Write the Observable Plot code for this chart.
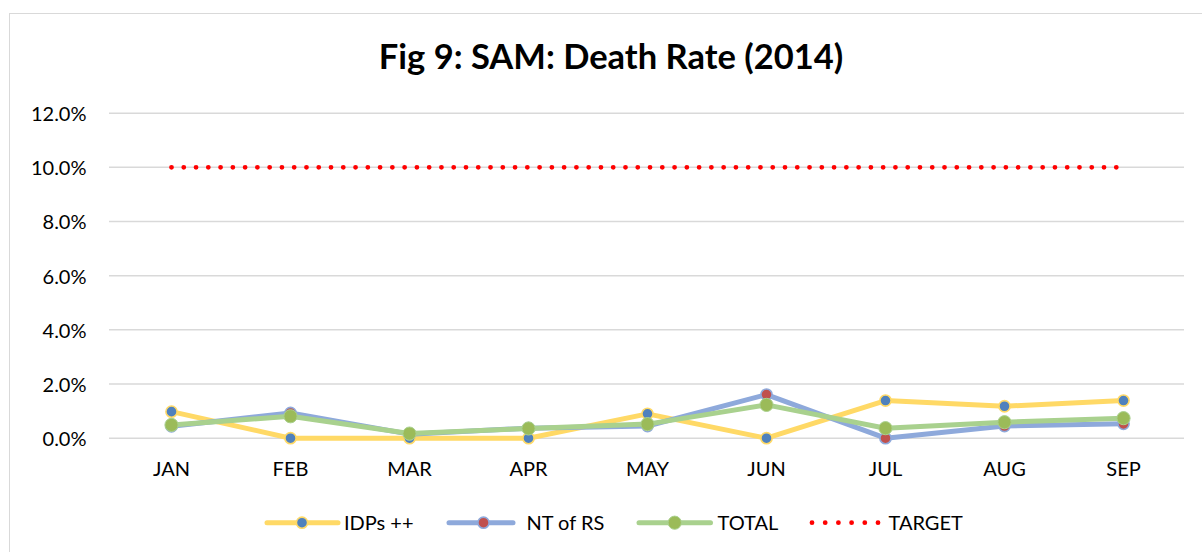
<!DOCTYPE html>
<html>
<head>
<meta charset="utf-8">
<script src="https://cdn.jsdelivr.net/npm/d3@7"></script>
<script src="https://cdn.jsdelivr.net/npm/@observablehq/plot@0.6"></script>
<style>
  html, body { margin: 0; padding: 0; background: #fff; overflow: hidden; }
  body { width: 1202px; height: 552px; position: relative; font-family: Lato, "Open Sans", sans-serif; }
  #frame { position: absolute; left: 9px; top: 13px; width: 1300px; height: 700px; border: 1.5px solid #d9d9d9; box-sizing: border-box; pointer-events: none; }
  #wrap { position: absolute; left: 0; top: 0; width: 1202px; }
  #wrap > svg { display: block; }
</style>
</head>
<body>
<div id="frame"></div>
<div id="wrap"></div>
<script>
// ---- data ----
const months = ["JAN", "FEB", "MAR", "APR", "MAY", "JUN", "JUL", "AUG", "SEP"];
const idps   = [0.0098, 0.0000, 0.0000, 0.0000, 0.0090, 0.0000, 0.0139, 0.0118, 0.0139];
const ntrs   = [0.0044, 0.0093, 0.0015, 0.0037, 0.0045, 0.0161, 0.0000, 0.0045, 0.0053];
const total  = [0.0049, 0.0081, 0.0017, 0.0036, 0.0052, 0.0123, 0.0037, 0.0059, 0.0074];
const target = [0.10, 0.10, 0.10, 0.10, 0.10, 0.10, 0.10, 0.10, 0.10];
const yTicks = [0, 0.02, 0.04, 0.06, 0.08, 0.10, 0.12];
const seriesNames = ["IDPs ++", "NT of RS", "TOTAL", "TARGET"];
const titleText = "Fig 9: SAM: Death Rate (2014)";

// ---- styles ----
const styles = {
  "IDPs ++":  {line: "#FFD966", fill: "#4F81BD", r: 5.6, sw: 1.6},
  "NT of RS": {line: "#8EA9DB", fill: "#C0504D", r: 5.6, sw: 1.6},
  "TOTAL":    {line: "#A9D18E", fill: "#9BBB59", r: 6.6, sw: 1},
  "TARGET":   {line: "#FF0000"}
};
const rows = (vals) => months.map((m, i) => ({month: m, value: vals[i]}));
const seriesData = {"IDPs ++": rows(idps), "NT of RS": rows(ntrs), "TOTAL": rows(total), "TARGET": rows(target)};

const wrap = document.getElementById("wrap");
const W = 1202;
const FONT = "Lato, sans-serif";

// ---- title ----
const tsvg = d3.create("svg").attr("width", W).attr("height", 90);
tsvg.append("text")
  .attr("x", 611).attr("y", 69.3)
  .attr("text-anchor", "middle")
  .attr("font-family", FONT)
  .attr("font-weight", 700)
  .attr("font-size", 34.5)
  .attr("fill", "#000")
  .text(titleText);
wrap.appendChild(tsvg.node());

// ---- chart ----
const lineMarks = [];
for (const name of ["IDPs ++", "NT of RS", "TOTAL"]) {
  const s = styles[name];
  lineMarks.push(
    Plot.line(seriesData[name], {x: "month", y: "value", stroke: s.line, strokeWidth: 5, strokeLinejoin: "round", strokeLinecap: "round"}),
    Plot.dot(seriesData[name], {x: "month", y: "value", r: s.r, fill: s.fill, stroke: s.line, strokeWidth: s.sw})
  );
}

const chart = Plot.plot({
  width: W,
  height: 400,
  marginLeft: 109,
  marginRight: 18,
  marginTop: 22.7,
  marginBottom: 52.3,
  style: {fontFamily: FONT, color: "#000", background: "transparent"},
  x: {type: "point", domain: months, padding: 0.5},
  y: {domain: [0, 0.12]},
  marks: [
    Plot.ruleY(yTicks, {stroke: "#d9d9d9", strokeWidth: 1.5}),
    Plot.axisY(yTicks, {tickSize: 0, tickPadding: 23, tickFormat: d3.format(".1%"), fontSize: 20, dy: 1.5, label: null}),
    Plot.axisX({tickSize: 0, tickPadding: 24, fontSize: 20, label: null}),
    ...lineMarks,
    Plot.line(seriesData["TARGET"], {x: "month", y: "value", stroke: styles["TARGET"].line, strokeWidth: 4.8, strokeDasharray: "0 12.27", strokeLinecap: "round"})
  ]
});
wrap.appendChild(chart);

// ---- legend ----
const lsvg = d3.create("svg").attr("width", W).attr("height", 62);
const cy = 32.7;
const items = [
  {name: seriesNames[0], x0: 267, x1: 338, dot: 302, tx: 344},
  {name: seriesNames[1], x0: 449, x1: 513, dot: 483.5, tx: 526.5},
  {name: seriesNames[2], x0: 639, x1: 710.5, dot: 674.7, tx: 717.5},
  {name: seriesNames[3], x0: 812, x1: 878, tx: 888.5}
];
for (const it of items) {
  const s = styles[it.name];
  if (it.name === "TARGET") {
    lsvg.append("line").attr("x1", it.x0).attr("x2", it.x1 + 0.5).attr("y1", cy).attr("y2", cy)
      .attr("stroke", s.line).attr("stroke-width", 4.8).attr("stroke-linecap", "round").attr("stroke-dasharray", "0 13.2");
  } else {
    lsvg.append("line").attr("x1", it.x0).attr("x2", it.x1).attr("y1", cy).attr("y2", cy)
      .attr("stroke", s.line).attr("stroke-width", 5).attr("stroke-linecap", "round");
    lsvg.append("circle").attr("cx", it.dot).attr("cy", cy).attr("r", s.r)
      .attr("fill", s.fill).attr("stroke", s.line).attr("stroke-width", s.sw);
  }
  lsvg.append("text").attr("x", it.tx).attr("y", cy).attr("dy", "0.36em")
    .attr("font-family", FONT).attr("font-size", 20).attr("fill", "#000")
    .text(it.name);
}
wrap.appendChild(lsvg.node());
</script>
</body>
</html>
